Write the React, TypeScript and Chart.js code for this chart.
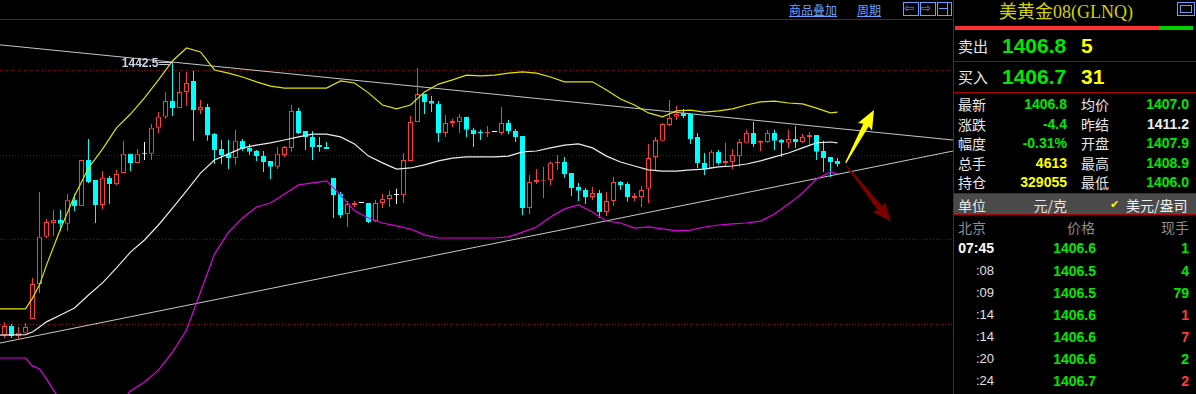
import React, { useEffect, useRef } from "react";
import { Chart, registerables } from "chart.js";

Chart.register(...registerables);

// ---------------- Candle data (price, one per bar) ----------------
const openP = [
  1346.1, 1349.3, 1345.8, 1346.9, 1351.8, 1364.2, 1380.9, 1385.8, 1386.9, 1385.5,
  1394.0, 1391.8, 1408.1, 1401.0, 1392.2, 1401.8, 1399.6, 1403.5, 1410.3, 1407.1,
  1410.3, 1410.3, 1419.5, 1423.4, 1429.0, 1426.5, 1432.2, 1436.1, 1425.8, 1426.9,
  1417.3, 1412.0, 1410.3, 1408.8, 1414.9, 1412.4, 1411.3, 1409.5, 1407.8, 1405.7,
  1409.9, 1412.4, 1425.5, 1418.4, 1416.3, 1413.4, 1412.7, 1401.8, 1396.1, 1389.0,
  1392.2, 1392.9, 1392.9, 1386.5, 1392.9, 1394.3, 1395.7, 1395.7, 1407.8, 1421.6,
  1431.5, 1429.0, 1428.0, 1417.7, 1421.2, 1421.6, 1423.4, 1418.8, 1418.0, 1417.7,
  1418.0, 1417.7, 1421.2, 1418.4, 1416.6, 1391.1, 1400.3, 1400.8, 1401.0, 1407.1,
  1407.4, 1403.5, 1398.6, 1397.5, 1395.0, 1396.4, 1389.7, 1393.6, 1400.3, 1399.6,
  1394.7, 1395.0, 1397.9, 1409.2, 1414.9, 1420.5, 1423.4, 1424.8, 1424.4, 1416.3,
  1407.1, 1405.3, 1411.0, 1407.1, 1407.4, 1409.5, 1414.2, 1417.7, 1414.2, 1414.5,
  1417.7, 1415.2, 1414.2, 1415.6, 1414.5, 1416.3, 1417.0, 1411.3, 1409.2, 1407.8,
];
const highP = [
  1350.7, 1350.0, 1349.0, 1350.4, 1366.3, 1396.8, 1387.2, 1390.4, 1390.4, 1396.1,
  1396.1, 1408.1, 1415.6, 1401.0, 1404.2, 1402.5, 1404.6, 1414.9, 1410.3, 1412.0,
  1414.5, 1420.9, 1425.1, 1432.2, 1442.5, 1439.3, 1439.3, 1439.6, 1429.4, 1428.0,
  1417.7, 1415.2, 1415.2, 1418.8, 1415.6, 1413.8, 1411.7, 1411.3, 1407.8, 1412.7,
  1413.1, 1427.6, 1426.5, 1418.4, 1418.4, 1416.3, 1414.5, 1401.8, 1396.8, 1393.6,
  1393.6, 1392.9, 1392.9, 1394.0, 1396.1, 1397.2, 1397.9, 1410.6, 1423.7, 1440.7,
  1431.5, 1430.8, 1429.0, 1424.1, 1422.7, 1424.4, 1423.4, 1419.5, 1418.8, 1420.2,
  1418.0, 1426.9, 1422.3, 1419.1, 1416.6, 1402.8, 1404.9, 1405.7, 1407.8, 1409.9,
  1409.2, 1403.5, 1400.0, 1398.2, 1398.6, 1397.5, 1396.8, 1402.1, 1400.7, 1400.3,
  1396.4, 1398.9, 1413.8, 1416.3, 1421.2, 1429.4, 1427.3, 1426.2, 1424.8, 1417.7,
  1410.6, 1411.7, 1411.7, 1414.2, 1412.0, 1415.6, 1418.8, 1421.6, 1414.9, 1418.8,
  1418.8, 1415.6, 1418.8, 1420.2, 1417.3, 1418.0, 1417.0, 1414.9, 1409.2, 1408.8,
];
const lowP = [
  1345.1, 1345.1, 1344.4, 1346.9, 1351.8, 1361.0, 1380.5, 1381.2, 1383.0, 1383.0,
  1390.1, 1391.8, 1400.0, 1385.8, 1390.8, 1392.5, 1399.3, 1403.5, 1404.2, 1407.1,
  1408.1, 1408.1, 1417.7, 1422.7, 1423.7, 1426.5, 1427.3, 1414.9, 1424.4, 1414.9,
  1406.7, 1406.7, 1404.9, 1406.4, 1411.3, 1409.9, 1407.8, 1403.9, 1401.4, 1404.9,
  1409.2, 1411.0, 1417.3, 1411.7, 1408.1, 1411.0, 1412.0, 1387.6, 1387.6, 1384.4,
  1391.5, 1392.9, 1385.8, 1386.2, 1391.1, 1391.5, 1392.5, 1392.9, 1407.8, 1421.6,
  1424.4, 1425.1, 1414.5, 1416.3, 1419.8, 1417.7, 1416.3, 1412.7, 1415.2, 1416.3,
  1418.0, 1417.0, 1417.3, 1414.5, 1388.6, 1389.0, 1399.6, 1394.7, 1399.3, 1404.6,
  1401.8, 1395.4, 1393.6, 1392.5, 1394.0, 1387.6, 1388.3, 1391.8, 1397.5, 1393.3,
  1393.6, 1391.5, 1392.9, 1404.6, 1414.9, 1420.2, 1422.3, 1423.0, 1413.8, 1405.3,
  1402.8, 1405.3, 1406.4, 1405.7, 1404.9, 1405.7, 1414.2, 1412.7, 1411.3, 1414.2,
  1411.7, 1409.2, 1412.4, 1412.4, 1414.2, 1413.1, 1408.1, 1403.9, 1402.1, 1405.7,
];
const closeP = [
  1349.3, 1345.8, 1346.9, 1349.0, 1364.2, 1380.9, 1386.2, 1386.9, 1385.5, 1394.0,
  1391.8, 1408.1, 1400.3, 1392.2, 1401.8, 1399.6, 1403.2, 1410.3, 1407.1, 1410.3,
  1410.3, 1419.5, 1423.4, 1429.0, 1426.5, 1432.2, 1435.4, 1425.8, 1426.9, 1417.0,
  1411.7, 1409.9, 1408.8, 1414.9, 1412.0, 1411.0, 1409.5, 1407.4, 1405.7, 1410.3,
  1412.7, 1425.5, 1417.7, 1416.3, 1412.7, 1412.7, 1412.0, 1395.7, 1388.6, 1392.5,
  1392.9, 1392.9, 1386.2, 1392.9, 1394.3, 1395.7, 1395.7, 1408.1, 1421.6, 1431.5,
  1428.7, 1428.0, 1417.7, 1421.2, 1421.9, 1423.4, 1418.8, 1417.3, 1417.7, 1418.0,
  1418.0, 1421.2, 1418.4, 1416.3, 1391.1, 1400.3, 1401.0, 1401.0, 1407.1, 1407.4,
  1403.2, 1398.2, 1397.2, 1395.0, 1396.4, 1389.7, 1393.6, 1400.3, 1399.3, 1395.0,
  1395.4, 1397.5, 1408.8, 1415.2, 1420.9, 1423.0, 1424.4, 1423.7, 1415.6, 1407.1,
  1404.9, 1411.0, 1407.1, 1407.8, 1409.9, 1414.5, 1417.7, 1413.8, 1414.9, 1417.7,
  1414.9, 1414.2, 1415.6, 1414.5, 1416.3, 1417.0, 1411.0, 1408.8, 1407.4, 1406.6,
];

// ---------------- Bollinger band readings (bar index -> price) ----------------
const bandIdx = [
  -1, 3, 4, 5, 6, 8, 10, 12, 14, 16, 18, 20, 22, 24, 26, 28, 30, 32, 34, 36, 38,
  40, 42, 44, 46, 48, 50, 52, 54, 56, 58, 60, 62, 64, 66, 68, 70, 72, 74, 76, 78,
  80, 82, 84, 86, 88, 90, 92, 94, 96, 98, 100, 102, 104, 106, 108, 110, 112, 114,
  116, 118, 119,
];
const upperBand = [
  1355.4, 1355.4, 1359.2, 1363.9, 1370.9, 1383.7, 1395.4, 1405.3, 1412.0, 1419.5,
  1424.4, 1430.1, 1436.5, 1443.2, 1447.8, 1446.4, 1440.0, 1438.9, 1437.5, 1435.8,
  1434.3, 1433.6, 1433.6, 1433.6, 1433.6, 1436.1, 1435.4, 1431.9, 1427.6, 1426.2,
  1427.6, 1432.2, 1435.0, 1436.5, 1438.2, 1437.9, 1438.2, 1438.9, 1439.3, 1438.9,
  1437.5, 1435.8, 1435.8, 1435.8, 1432.9, 1429.7, 1427.6, 1424.8, 1423.4, 1425.5,
  1425.8, 1425.1, 1425.5, 1426.2, 1427.6, 1428.7, 1429.0, 1428.3, 1428.0, 1426.5,
  1424.8, 1425.1,
];
const midBand = [
  1346.1, 1346.3, 1347.2, 1349.0, 1350.8, 1353.2, 1355.7, 1360.3, 1364.6, 1369.9,
  1375.5, 1379.8, 1385.1, 1391.1, 1397.2, 1403.5, 1408.1, 1410.3, 1412.4, 1413.4,
  1414.2, 1415.2, 1416.3, 1417.3, 1417.3, 1416.3, 1413.8, 1409.5, 1407.1, 1404.9,
  1405.3, 1406.4, 1407.8, 1408.8, 1409.2, 1409.2, 1409.2, 1409.5, 1411.0, 1411.3,
  1412.4, 1413.4, 1413.8, 1412.4, 1409.5, 1407.4, 1406.0, 1404.6, 1404.2, 1404.2,
  1404.6, 1404.9, 1405.7, 1406.0, 1406.7, 1407.8, 1409.2, 1410.6, 1412.4, 1414.2,
  1414.5, 1414.2,
];
const lowerBand = [
  1338.0, 1338.0, 1335.2, 1334.1, 1330.6, 1322.8, 1316.0, 1315.3, 1317.1, 1320.3,
  1326.3, 1329.5, 1333.7, 1340.1, 1347.9, 1361.4, 1374.8, 1382.6, 1387.6, 1391.5,
  1392.9, 1396.1, 1399.3, 1400.0, 1400.7, 1395.7, 1390.1, 1387.6, 1385.8, 1384.8,
  1383.7, 1381.6, 1380.5, 1380.5, 1380.5, 1380.5, 1380.5, 1380.9, 1382.6, 1384.4,
  1387.9, 1390.8, 1392.2, 1389.7, 1386.5, 1385.8, 1384.0, 1384.4, 1383.7, 1383.0,
  1383.3, 1384.4, 1385.1, 1385.5, 1385.8, 1386.5, 1389.0, 1392.5, 1396.4, 1401.4,
  1403.9, 1403.2,
];

// ---------------- Hand-drawn trend lines (bar index, price) ----------------
const trendX = [-0.643, 135.5];
const trendUpper = [1448.9, 1415.2];
const trendLower = [1343.3, 1411.3];

// ---------------- Arrows (bar index, price) ----------------
const arrowFromX = [120.17, 120.31];
const arrowFromY = [1407.1, 1406.0];
const arrowToX = [124.21, 126.6];
const arrowToY = [1425.8, 1386.3];

// ---------------- Grid prices ----------------
const gridPrices = [1350, 1380, 1410, 1440];

// ---------------- Quote panel ----------------
const quoteLabelsL = ["最新", "涨跌", "幅度", "总手", "持仓"];
const quoteValuesL = ["1406.8", "-4.4", "-0.31%", "4613", "329055"];
const quoteLabelsR = ["均价", "昨结", "开盘", "最高", "最低"];
const quoteValuesR = ["1407.0", "1411.2", "1407.9", "1408.9", "1406.0"];
const tickTimes = ["07:45", ":08", ":09", ":14", ":14", ":20", ":24"];
const tickPrices = ["1406.6", "1406.5", "1406.5", "1406.6", "1406.6", "1406.6", "1406.7"];
const tickVols = ["1", "4", "79", "1", "7", "2", "2"];
const tickVolUp = [false, false, false, true, true, false, true];

const UP = "#ff3c3c";
const DOWN = "#00ffff";
const FLAT = "#ffffff";
const GREEN = "#00e800";
const YELLOW = "#ffff00";
const RED_LINE = "#b00000";
const LINK = "#64a0ff";
const CJK = '"Noto Sans CJK SC", sans-serif';
const NUM = '"Liberation Sans", Arial, sans-serif';
const PW = 1196;

const gridPlugin = {
  id: "dotGrid",
  beforeDatasetsDraw(chart: any) {
    const { ctx, chartArea, scales } = chart;
    ctx.save();
    ctx.strokeStyle = "#9a0000";
    ctx.lineWidth = 1;
    ctx.setLineDash([1, 2]);
    gridPrices.forEach((v) => {
      const y = Math.round(scales.y.getPixelForValue(v)) + 0.5;
      ctx.beginPath();
      ctx.moveTo(chartArea.left, y);
      ctx.lineTo(chartArea.right, y);
      ctx.stroke();
    });
    ctx.restore();
  },
};

const overlayPlugin = {
  id: "overlay",
  afterDatasetsDraw(chart: any) {
    const { ctx, scales } = chart;
    const xs = scales.x;
    const ys = scales.y;
    let hi = 0;
    highP.forEach((v, i) => {
      if (v > highP[hi]) hi = i;
    });
    const px = xs.getPixelForValue(hi);
    const py = ys.getPixelForValue(highP[hi]);
    ctx.save();
    ctx.strokeStyle = "#c8ccd4";
    ctx.lineWidth = 1;
    ctx.beginPath();
    ctx.moveTo(px - 14, Math.round(py) - 0.5);
    ctx.lineTo(px, Math.round(py) - 0.5);
    ctx.moveTo(px - 14, Math.round(py) + 1.5);
    ctx.lineTo(px - 3, Math.round(py) + 1.5);
    ctx.stroke();
    ctx.fillStyle = "#c8d2e6";
    ctx.font = 'bold 12px "Liberation Sans", Arial, sans-serif';
    ctx.textAlign = "right";
    ctx.textBaseline = "middle";
    ctx.fillText(highP[hi].toFixed(1), px - 14, py + 1);
    const colors = ["#ffff00", "#7d0000"];
    for (let k = 0; k < arrowFromX.length; k++) {
      const x0 = xs.getPixelForValue(arrowFromX[k]);
      const y0 = ys.getPixelForValue(arrowFromY[k]);
      const x1 = xs.getPixelForValue(arrowToX[k]);
      const y1 = ys.getPixelForValue(arrowToY[k]);
      const dx = x1 - x0;
      const dy = y1 - y0;
      const len = Math.hypot(dx, dy);
      const ux = dx / len;
      const uy = dy / len;
      const nx = -uy;
      const ny = ux;
      const hl = 17;
      const hw = 8;
      const sw = 3;
      const jx = x1 - ux * hl;
      const jy = y1 - uy * hl;
      const bx = x1 - ux * (hl + 2);
      const by = y1 - uy * (hl + 2);
      ctx.fillStyle = colors[k];
      ctx.beginPath();
      ctx.moveTo(x0 + nx * 0.6, y0 + ny * 0.6);
      ctx.lineTo(jx + nx * sw, jy + ny * sw);
      ctx.lineTo(bx + nx * hw, by + ny * hw);
      ctx.lineTo(x1, y1);
      ctx.lineTo(bx - nx * hw, by - ny * hw);
      ctx.lineTo(jx - nx * sw, jy - ny * sw);
      ctx.lineTo(x0 - nx * 0.6, y0 - ny * 0.6);
      ctx.closePath();
      ctx.fill();
    }
    ctx.restore();
  },
};

function Txt(props: any) {
  const { x, r, y, size = 14, lh = 20, color = "#e8e8e8", bold = false, font = CJK, children, extra } = props;
  const style: any = {
    position: "absolute",
    top: y - lh / 2,
    height: lh,
    lineHeight: lh + "px",
    fontSize: size,
    color,
    fontFamily: font,
    fontWeight: bold ? 700 : 400,
    whiteSpace: "nowrap",
    ...(extra || {}),
  };
  if (r !== undefined) {
    style.right = PW - r;
    style.textAlign = "right";
  } else {
    style.left = x;
  }
  return <div style={style}>{children}</div>;
}

function Box(props: any) {
  const { x, y, w, h, bg, border, extra } = props;
  return (
    <div
      style={{
        position: "absolute",
        left: x,
        top: y,
        width: w,
        height: h,
        background: bg,
        border: border,
        boxSizing: "border-box",
        ...(extra || {}),
      }}
    />
  );
}

export default function App() {
  const ref = useRef<HTMLCanvasElement>(null);

  useEffect(() => {
    const canvas = ref.current;
    if (!canvas) return;
    const idx = openP.map((_, i) => i);
    const dirColor = idx.map((i) => (closeP[i] > openP[i] ? UP : closeP[i] < openP[i] ? DOWN : FLAT));
    const bodyFill = idx.map((i) => (closeP[i] > openP[i] ? "#000000" : dirColor[i]));
    const line = (label: string, xsArr: number[], ysArr: number[], color: string, order: number, width = 1) => ({
      type: "line" as const,
      label,
      data: xsArr.map((x, k) => ({ x, y: ysArr[k] })),
      borderColor: color,
      borderWidth: width,
      pointRadius: 0,
      tension: 0,
      fill: false,
      order,
    });
    const chart = new Chart(canvas, {
      type: "bar",
      data: {
        datasets: [
          line("trendUpper", trendX, trendUpper, "#c8c8c8", 10),
          line("trendLower", trendX, trendLower, "#c8c8c8", 10),
          {
            type: "bar",
            label: "wick",
            data: idx.map((i) => ({ x: i, y: [lowP[i], highP[i]] })),
            backgroundColor: dirColor,
            borderWidth: 0,
            barThickness: 1,
            grouped: false,
            minBarLength: 1,
            inflateAmount: 0,
            order: 8,
          } as any,
          {
            type: "bar",
            label: "body",
            data: idx.map((i) => ({ x: i, y: [openP[i], closeP[i]] })),
            backgroundColor: bodyFill,
            borderColor: dirColor,
            borderWidth: 1,
            borderSkipped: false,
            barThickness: 5,
            grouped: false,
            minBarLength: 1,
            inflateAmount: 0,
            order: 7,
          } as any,
          line("upper", bandIdx, upperBand, "#e4e400", 3, 1.2),
          line("mid", bandIdx, midBand, "#ececec", 2, 1.2),
          line("lower", bandIdx, lowerBand, "#e000e0", 1, 1.2),
        ] as any,
      },
      options: {
        animation: false,
        responsive: false,
        maintainAspectRatio: false,
        layout: { padding: 0 },
        plugins: {
          legend: { display: false },
          tooltip: { enabled: false },
          title: { display: false },
        },
        scales: {
          x: {
            type: "linear",
            min: -0.642857,
            max: 135.5,
            display: false,
            offset: false,
            grid: { display: false },
          },
          y: {
            type: "linear",
            min: 1325.25,
            max: 1457.7,
            display: false,
          },
        },
      } as any,
      plugins: [gridPlugin, overlayPlugin],
    });
    return () => chart.destroy();
  }, []);

  const rowY = [104, 123.5, 143, 162.7, 182.3];
  const tickY = [248.3, 270.5, 292.5, 314.5, 336.5, 358.5, 380.5];

  return (
    <div
      style={{
        position: "absolute",
        left: 0,
        top: 0,
        width: PW,
        height: 394,
        background: "#000",
        overflow: "hidden",
      }}
    >
      <canvas
        ref={ref}
        width={953}
        height={374}
        style={{ position: "absolute", left: 0, top: 20, width: 953, height: 374, display: "block" }}
      />

      {/* top tool bar */}
      <Txt x={789} y={10} size={12} lh={16} color={LINK} extra={{ textDecoration: "underline" }}>
        商品叠加
      </Txt>
      <Txt x={857} y={10} size={12} lh={16} color={LINK} extra={{ textDecoration: "underline" }}>
        周期
      </Txt>
      <Box x={903} y={2} w={16} h={14} border={`1px solid ${LINK}`} />
      <Txt x={904} y={8.5} size={12} lh={13} color={LINK} font='"DejaVu Sans", sans-serif'>⇦</Txt>
      <Box x={920} y={2} w={16} h={14} border={`1px solid ${LINK}`} />
      <Txt x={921} y={8.5} size={12} lh={13} color={LINK} font='"DejaVu Sans", sans-serif'>⇨</Txt>
      <Box x={937} y={2} w={15} h={14} border={`1px solid ${LINK}`} />
      <Box x={939} y={8} w={8} h={1} bg={LINK} />
      <Box x={947} y={3} w={1} h={12} bg={LINK} />
      <Box x={0} y={19} w={953} h={1} bg={RED_LINE} />

      {/* panel frame */}
      <Box x={953} y={0} w={1} h={394} bg={RED_LINE} />
      <Txt x={999} y={12} size={18} lh={22} color="#d2d200" font='"Liberation Serif", "Noto Sans CJK SC", serif'>
        美黄金08(GLNQ)
      </Txt>
      <Box x={1177} y={2} w={18} h={14} border={`1px solid ${LINK}`} />
      <Box x={1180} y={5} w={12} h={8} border={`1px solid ${LINK}`} />
      <Box x={955} y={26} w={204} h={4} bg="#ff3030" />
      <Box x={1159} y={26} w={34} h={4} bg="#00d000" />

      {/* bid / ask */}
      <Txt x={958} y={46} size={15} lh={22}>卖出</Txt>
      <Txt x={1002} y={46} size={21} lh={26} bold color={GREEN} font={NUM}>1406.8</Txt>
      <Txt x={1081} y={46} size={21} lh={26} bold color={YELLOW} font={NUM}>5</Txt>
      <Box x={954} y={61} w={242} h={1} bg={RED_LINE} />
      <Txt x={958} y={77} size={15} lh={22}>买入</Txt>
      <Txt x={1002} y={77} size={21} lh={26} bold color={GREEN} font={NUM}>1406.7</Txt>
      <Txt x={1081} y={77} size={21} lh={26} bold color={YELLOW} font={NUM}>31</Txt>
      <Box x={954} y={92} w={242} h={1} bg={RED_LINE} />

      {/* quote rows */}
      {quoteLabelsL.map((t, k) => (
        <React.Fragment key={"q" + k}>
          <Txt x={958} y={rowY[k]} size={14} lh={20}>{t}</Txt>
          <Txt
            r={1067}
            y={rowY[k]}
            size={14}
            lh={20}
            bold
            font={NUM}
            color={k >= 3 ? YELLOW : GREEN}
          >
            {quoteValuesL[k]}
          </Txt>
          <Txt x={1081} y={rowY[k]} size={14} lh={20}>{quoteLabelsR[k]}</Txt>
          <Txt r={1189} y={rowY[k]} size={14} lh={20} bold font={NUM} color={k === 1 ? "#f0f0f0" : GREEN}>
            {quoteValuesR[k]}
          </Txt>
        </React.Fragment>
      ))}

      {/* unit row */}
      <Box x={954} y={193} w={242} h={1} bg={RED_LINE} />
      <Box x={954} y={194} w={242} h={20} bg="#4a4a4a" />
      <Box x={954} y={214} w={242} h={1} bg={RED_LINE} />
      <Txt x={958} y={204.5} size={14} lh={20} color="#e8e8e8">单位</Txt>
      <Txt r={1067} y={204.5} size={14} lh={20} color="#e8e8e8">元/克</Txt>
      <Txt x={1110} y={204.5} size={11} lh={20} color={YELLOW} font='"DejaVu Sans", sans-serif'>✔</Txt>
      <Txt x={1126} y={204.5} size={14} lh={20} color="#f0f0f0">美元/盎司</Txt>

      {/* ticks header */}
      <Txt x={958} y={227} size={14} lh={20} color="#8c8c8c">北京</Txt>
      <Txt r={1095} y={227} size={14} lh={20} color="#8c8c8c">价格</Txt>
      <Txt r={1189} y={227} size={14} lh={20} color="#8c8c8c">现手</Txt>

      {tickTimes.map((t, k) => (
        <React.Fragment key={"t" + k}>
          <Txt
            r={994}
            y={tickY[k]}
            size={k === 0 ? 14 : 13}
            lh={20}
            bold={k === 0}
            font={NUM}
            color={k === 0 ? "#ffffff" : "#e0e0e0"}
          >
            {t}
          </Txt>
          <Txt r={1096} y={tickY[k]} size={14} lh={20} bold font={NUM} color={GREEN}>
            {tickPrices[k]}
          </Txt>
          <Txt r={1189} y={tickY[k]} size={14} lh={20} bold font={NUM} color={tickVolUp[k] ? "#ff3c3c" : GREEN}>
            {tickVols[k]}
          </Txt>
        </React.Fragment>
      ))}
    </div>
  );
}
